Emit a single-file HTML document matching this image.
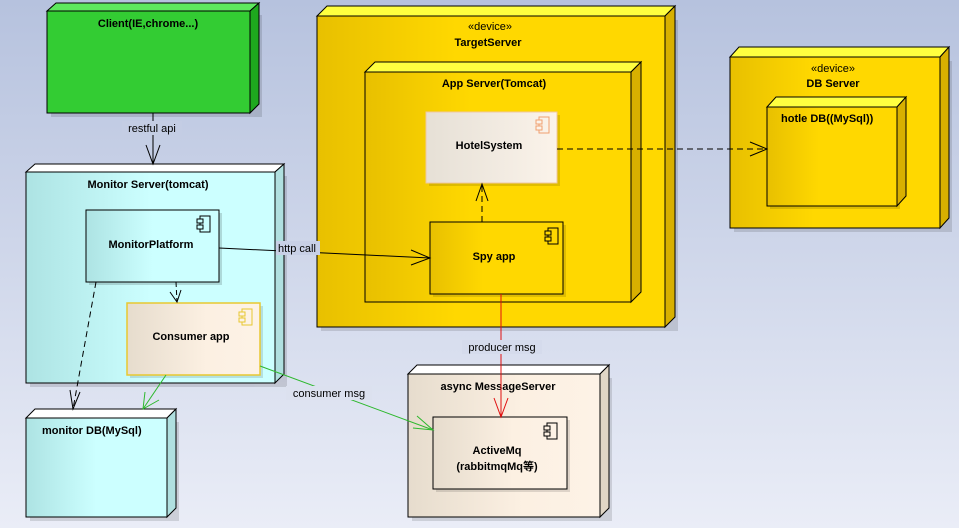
<!DOCTYPE html>
<html><head><meta charset="utf-8"><style>
html,body{margin:0;padding:0;}
svg{display:block;}
text{font-family:"Liberation Sans","Noto Sans CJK SC",sans-serif;font-size:11px;fill:#000;}
.b{font-weight:bold;}
</style></head><body>
<svg width="959" height="528" viewBox="0 0 959 528" xmlns="http://www.w3.org/2000/svg">
<defs>
<linearGradient id="bg" x1="0" y1="0" x2="0" y2="1"><stop offset="0" stop-color="#b6c2de"/><stop offset="1" stop-color="#eaedf7"/></linearGradient>
<linearGradient id="yel" x1="0" y1="0" x2="1" y2="0"><stop offset="0" stop-color="#e8c000"/><stop offset="0.4" stop-color="#ffd800"/><stop offset="1" stop-color="#ffd800"/></linearGradient>
<linearGradient id="cy" x1="0" y1="0" x2="1" y2="0"><stop offset="0" stop-color="#ade3e3"/><stop offset="0.5" stop-color="#ccffff"/><stop offset="1" stop-color="#ccffff"/></linearGradient>
<linearGradient id="bei" x1="0" y1="0" x2="1" y2="0"><stop offset="0" stop-color="#e6dccd"/><stop offset="0.6" stop-color="#fcf0e2"/><stop offset="1" stop-color="#fdf2e6"/></linearGradient>
<linearGradient id="hs" x1="0" y1="0" x2="1" y2="0"><stop offset="0" stop-color="#e6e0d6"/><stop offset="1" stop-color="#fbf3ea"/></linearGradient>
</defs>
<rect width="959" height="528" fill="url(#bg)"/>

<g fill="#000" opacity="0.12">
<rect x="51" y="15" width="211" height="102"/>
<rect x="30" y="176" width="257" height="211"/>
<rect x="30" y="422" width="149" height="99"/>
<rect x="412" y="378" width="200" height="143"/>
<rect x="321" y="20" width="357" height="311"/>
<rect x="734" y="61" width="218" height="171"/>
</g>

<polygon points="47,11 56,3 259,3 250,11" fill="#5ee85e" stroke="#000"/>
<polygon points="250,11 259,3 259,104 250,113" fill="#1ea81e" stroke="#000"/>
<rect x="47" y="11" width="203" height="102" fill="#33cc33" stroke="#000"/>
<text x="148" y="27" class="b" text-anchor="middle">Client(IE,chrome...)</text>

<polygon points="26,172 35,164 284,164 275,172" fill="#fff" stroke="#000"/>
<polygon points="275,172 284,164 284,374 275,383" fill="#b0e0e0" stroke="#000"/>
<rect x="26" y="172" width="249" height="211" fill="url(#cy)" stroke="#000"/>
<text x="148" y="188" class="b" text-anchor="middle">Monitor Server(tomcat)</text>

<rect x="89" y="213" width="133" height="72" fill="#000" opacity="0.15"/>
<rect x="86" y="210" width="133" height="72" fill="url(#cy)" stroke="#000"/>
<text x="151" y="248" class="b" text-anchor="middle">MonitorPlatform</text>

<rect x="130" y="306" width="133" height="72" fill="#000" opacity="0.12"/>
<rect x="127" y="303" width="133" height="72" fill="url(#bei)" stroke="#e8c830" stroke-width="1.5"/>
<text x="191" y="340" class="b" text-anchor="middle">Consumer app</text>

<polygon points="26,418 35,409 176,409 167,418" fill="#fff" stroke="#000"/>
<polygon points="167,418 176,409 176,508 167,517" fill="#b0e0e0" stroke="#000"/>
<rect x="26" y="418" width="141" height="99" fill="url(#cy)" stroke="#000"/>
<text x="42" y="434" class="b">monitor DB(MySql)</text>

<polygon points="408,374 417,365 609,365 600,374" fill="#fff" stroke="#000"/>
<polygon points="600,374 609,365 609,508 600,517" fill="#e0d6c6" stroke="#000"/>
<rect x="408" y="374" width="192" height="143" fill="url(#bei)" stroke="#000"/>
<text x="498" y="390" class="b" text-anchor="middle">async  MessageServer</text>

<rect x="436" y="420" width="134" height="72" fill="#000" opacity="0.12"/>
<rect x="433" y="417" width="134" height="72" fill="url(#bei)" stroke="#000"/>
<text x="497" y="454" class="b" text-anchor="middle">ActiveMq</text>
<text x="497" y="470" class="b" text-anchor="middle">(rabbitmqMq等)</text>

<polygon points="317,16 327,6 675,6 665,16" fill="#ffff40" stroke="#000"/>
<polygon points="665,16 675,6 675,317 665,327" fill="#d8b000" stroke="#000"/>
<rect x="317" y="16" width="348" height="311" fill="url(#yel)" stroke="#000"/>
<text x="490" y="30" text-anchor="middle">«device»</text>
<text x="488" y="46" class="b" text-anchor="middle">TargetServer</text>

<polygon points="365,72 375,62 641,62 631,72" fill="#ffff40" stroke="#000"/>
<polygon points="631,72 641,62 641,292 631,302" fill="#d8b000" stroke="#000"/>
<rect x="365" y="72" width="266" height="230" fill="url(#yel)" stroke="#000"/>
<text x="494" y="87" class="b" text-anchor="middle">App Server(Tomcat)</text>

<rect x="429" y="115" width="131" height="71" fill="#000" opacity="0.12"/>
<rect x="426" y="112" width="131" height="71" fill="url(#hs)" stroke="#f0c8a0"/>
<text x="489" y="149" class="b" text-anchor="middle">HotelSystem</text>

<rect x="433" y="225" width="133" height="72" fill="#000" opacity="0.12"/>
<rect x="430" y="222" width="133" height="72" fill="url(#yel)" stroke="#000"/>
<text x="494" y="260" class="b" text-anchor="middle">Spy app</text>

<polygon points="730,57 739,47 949,47 940,57" fill="#ffff40" stroke="#000"/>
<polygon points="940,57 949,47 949,218 940,228" fill="#d8b000" stroke="#000"/>
<rect x="730" y="57" width="210" height="171" fill="url(#yel)" stroke="#000"/>
<text x="833" y="72" text-anchor="middle">«device»</text>
<text x="833" y="87" class="b" text-anchor="middle">DB Server</text>

<rect x="770" y="110" width="130" height="99" fill="#000" opacity="0.12"/>
<polygon points="767,107 776,97 906,97 897,107" fill="#ffff40" stroke="#000"/>
<polygon points="897,107 906,97 906,196 897,206" fill="#d8b000" stroke="#000"/>
<rect x="767" y="107" width="130" height="99" fill="url(#yel)" stroke="#000"/>
<text x="781" y="122" class="b">hotle DB((MySql))</text>

<g fill="none" stroke="#000">
<rect x="200" y="216" width="10" height="16"/><rect x="197" y="219" width="6" height="4" fill="#ccffff"/><rect x="197" y="225" width="6" height="4" fill="#ccffff"/>
<rect x="548" y="228" width="10" height="16"/><rect x="545" y="231" width="6" height="4" fill="#ffd800"/><rect x="545" y="237" width="6" height="4" fill="#ffd800"/>
<rect x="547" y="423" width="10" height="16"/><rect x="544" y="426" width="6" height="4" fill="#fcf0e2"/><rect x="544" y="432" width="6" height="4" fill="#fcf0e2"/>
</g>
<g fill="none" stroke="#e8c830">
<rect x="242" y="309" width="10" height="16"/><rect x="239" y="312" width="6" height="4" fill="#fdf2e6"/><rect x="239" y="318" width="6" height="4" fill="#fdf2e6"/>
</g>
<g fill="none" stroke="#f0a070">
<rect x="539" y="117" width="10" height="16"/><rect x="536" y="120" width="6" height="4" fill="#fbf3ea"/><rect x="536" y="126" width="6" height="4" fill="#fbf3ea"/>
</g>

<g fill="none" stroke="#000" stroke-width="1">
<line x1="153" y1="113" x2="153" y2="164"/>
<polyline points="146,145 153,164 160,145"/>
<line x1="219" y1="248" x2="430" y2="258"/>
<polyline points="411,250 430,258 411,265"/>
<line x1="176" y1="282" x2="177" y2="302" stroke-dasharray="5,3"/>
<polyline points="170,292 177,302 181,290"/>
<line x1="96" y1="282" x2="73" y2="409" stroke-dasharray="6,4"/>
<polyline points="70,390 73,409 80,392"/>
<line x1="482" y1="222" x2="482" y2="184" stroke-dasharray="6,4"/>
<polyline points="476,201 482,184 488,201"/>
<line x1="557" y1="149" x2="767" y2="149" stroke-dasharray="6,4"/>
<polyline points="750,142 767,149 750,156"/>
</g>
<g fill="none" stroke="#2db82d">
<line x1="166" y1="375" x2="143" y2="409"/>
<polyline points="145,392 143,409 159,400"/>
<line x1="260" y1="366" x2="433" y2="430"/>
<polyline points="417,416 433,430 413,428"/>
</g>
<g fill="none" stroke="#e01010">
<line x1="501" y1="294" x2="501" y2="417"/>
<polyline points="494,398 501,417 508,398"/>
</g>

<rect x="122" y="121" width="60" height="14" fill="#c4cde4"/>
<text x="152" y="132" text-anchor="middle">restful api</text>
<rect x="276" y="241" width="44" height="14" fill="#c8d0e6"/>
<text x="278" y="252">http call</text>
<rect x="462" y="340" width="80" height="14" fill="#d5dbec"/>
<text x="502" y="351" text-anchor="middle">producer msg</text>
<rect x="286" y="386" width="86" height="14" fill="#dce1ef"/>
<text x="329" y="397" text-anchor="middle">consumer msg</text>
</svg>
</body></html>
